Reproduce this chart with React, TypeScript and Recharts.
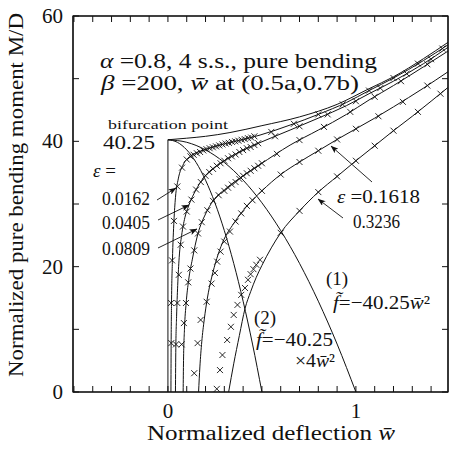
import React from 'react';
import { ComposedChart, Line, Scatter, XAxis, YAxis } from 'recharts';

// ---------- axis ticks ----------
const xTicks = [-0.5, -0.4, -0.3, -0.2, -0.1, 0, 0.1, 0.2, 0.3, 0.4, 0.5, 0.6, 0.7, 0.8, 0.9, 1, 1.1, 1.2, 1.3, 1.4];
const xTickLabels = [0, 1];
const yTicks = [0, 10, 20, 30, 40, 50, 60];
const yTickLabels = [0, 20, 40, 60];

// ---------- perfect plate: vertical branch + post-buckling path ----------
const verticalW = [0, 0];
const verticalM = [0, 40.25];
const perfectW = [0, 0.1, 0.2, 0.33, 0.5, 0.7, 0.9, 1.07, 1.2, 1.36, 1.49];
const perfectM = [40.25, 40.5, 40.8, 41.4, 42.5, 43.9, 45.9, 48.4, 50.3, 53.2, 55.8];

// ---------- imperfect plates (lines) ----------
const e1W = [0.016, 0.017, 0.019, 0.024, 0.032, 0.04, 0.055, 0.08, 0.12, 0.2, 0.3, 0.4, 0.49, 0.65, 0.8, 0.95, 1.07, 1.2, 1.36, 1.49];
const e1M = [0, 7, 14, 21, 27.3, 31, 34, 36.2, 37.6, 38.7, 39.6, 40.3, 41, 42.6, 44.3, 46.2, 48.1, 50.1, 52.9, 55.4];
const e2W = [0.04, 0.042, 0.046, 0.052, 0.06, 0.073, 0.09, 0.11, 0.15, 0.19, 0.25, 0.31, 0.4, 0.49, 0.65, 0.8, 0.95, 1.07, 1.2, 1.36, 1.49];
const e2M = [0, 7, 12, 17, 21.5, 25, 27.8, 29.7, 32.3, 34.2, 35.9, 37.1, 38.6, 39.8, 41.8, 43.7, 45.7, 47.6, 49.6, 52.4, 55];
const e3W = [0.081, 0.083, 0.088, 0.097, 0.11, 0.13, 0.16, 0.2, 0.24, 0.31, 0.4, 0.49, 0.65, 0.8, 0.95, 1.07, 1.2, 1.36, 1.49];
const e3M = [0, 5, 10, 14.2, 17.8, 21.2, 25.3, 28.4, 30.5, 32.5, 34.5, 36.3, 39.4, 41.8, 44.3, 46.6, 48.9, 51.9, 54.4];
const e4W = [0.163, 0.17, 0.18, 0.193, 0.21, 0.232, 0.26, 0.29, 0.35, 0.436, 0.5, 0.6, 0.7, 0.8, 0.9, 1.0, 1.1, 1.2, 1.36, 1.49];
const e4M = [0, 4, 8, 11.5, 15, 18.2, 21.3, 23.8, 26.9, 30.2, 32.1, 34.7, 36.7, 38.5, 40.3, 42, 43.7, 45.5, 48.5, 51.1];
const e5W = [0.323, 0.35, 0.38, 0.41, 0.44, 0.47, 0.5, 0.55, 0.6, 0.7, 0.8, 0.9, 1.0, 1.1, 1.2, 1.3, 1.4, 1.49];
const e5M = [0, 4.5, 9, 13.3, 16, 18.3, 20.2, 23, 25.4, 28.9, 31.9, 34.4, 36.9, 39.3, 41.7, 44, 46.4, 48.6];

// ---------- parabolas (1) and (2) ----------
const para1W = [0, 0.1, 0.2, 0.3, 0.4, 0.5, 0.6, 0.7, 0.8, 0.9, 1.0];
const para1M = [40.25, 39.85, 38.64, 36.63, 33.81, 30.19, 25.76, 20.53, 14.49, 7.65, 0];
const para2W = [0, 0.05, 0.1, 0.15, 0.2, 0.25, 0.3, 0.35, 0.4, 0.45, 0.5];
const para2M = [40.25, 39.85, 38.64, 36.63, 33.81, 30.19, 25.76, 20.53, 14.49, 7.65, 0];

// ---------- cross markers ----------
const x1W = [0.018, 0.017, 0.022, 0.032, 0.05, 0.075, 0.1, 0.12, 0.137, 0.154, 0.171, 0.188, 0.205, 0.222, 0.239, 0.256, 0.273, 0.29, 0.307, 0.324, 0.341, 0.358, 0.375, 0.392, 0.409, 0.426, 0.443, 0.46, 0.55, 0.67, 0.8, 0.93, 1.07, 1.2, 1.33, 1.46];
const x1M = [7.8, 14.2, 21, 27.3, 32.8, 35.8, 37.1, 37.6, 37.85, 38.1, 38.3, 38.55, 38.75, 38.9, 39.05, 39.2, 39.35, 39.5, 39.65, 39.75, 39.9, 40.0, 40.1, 40.25, 40.35, 40.5, 40.6, 40.8, 41.5, 42.8, 44.3, 45.9, 48.1, 50.1, 52.4, 54.8];
const x2W = [0.043, 0.05, 0.058, 0.068, 0.08, 0.1, 0.125, 0.15, 0.175, 0.2, 0.22, 0.24, 0.26, 0.28, 0.3, 0.32, 0.34, 0.36, 0.38, 0.4, 0.42, 0.44, 0.46, 0.48, 0.57, 0.7, 0.85, 1.0, 1.13, 1.27, 1.4];
const x2M = [7.6, 14.2, 18.7, 23.5, 26.4, 28.8, 30.7, 32.3, 33.5, 34.5, 35.1, 35.6, 36.1, 36.5, 36.9, 37.3, 37.6, 37.9, 38.3, 38.6, 38.9, 39.1, 39.4, 39.7, 40.8, 42.4, 44.3, 46.4, 48.5, 50.8, 53.1];
const x3W = [0.073, 0.085, 0.096, 0.108, 0.12, 0.14, 0.16, 0.18, 0.21, 0.24, 0.27, 0.3, 0.32, 0.34, 0.36, 0.38, 0.4, 0.42, 0.44, 0.46, 0.48, 0.5, 0.58, 0.7, 0.83, 0.97, 1.1, 1.24, 1.38];
const x3M = [7.6, 11, 14.2, 17.5, 19.7, 22.6, 25.3, 27.1, 29, 30.5, 31.4, 32.1, 32.6, 33.1, 33.5, 34, 34.5, 34.9, 35.3, 35.7, 36.1, 36.5, 38, 40.2, 42.3, 44.7, 47.1, 49.6, 52.3];
const x4W = [0.14, 0.158, 0.174, 0.206, 0.232, 0.25, 0.262, 0.28, 0.3, 0.33, 0.36, 0.39, 0.42, 0.45, 0.5, 0.6, 0.7, 0.8, 0.9, 1.0, 1.12, 1.25, 1.38];
const x4M = [3, 7.8, 11.5, 14.4, 17.3, 19, 20.8, 22.4, 24, 25.6, 27.2, 28.5, 29.7, 30.6, 32.1, 34.7, 36.7, 38.5, 40.3, 42, 44, 46.3, 48.9];
const x5W = [0.26, 0.277, 0.29, 0.315, 0.335, 0.35, 0.37, 0.39, 0.41, 0.426, 0.44, 0.455, 0.47, 0.49, 0.6, 0.7, 0.8, 0.9, 1.0, 1.1, 1.2, 1.33, 1.45];
const x5M = [0.5, 3.5, 5.9, 8.3, 10.4, 12.3, 13.9, 15.5, 16.6, 17.9, 18.8, 19.6, 20.3, 21.1, 25.4, 28.9, 31.9, 34.4, 36.9, 39.3, 41.7, 44.7, 47.6];

const pts = (w: number[], m: number[]) => w.map((x, i) => ({ x, y: m[i] }));

// ---------- layout ----------
const W = 449;
const H = 450;
const PL = 73;
const PR = 448;
const PT = 16;
const PB = 392;
const X_DOMAIN: [number, number] = [-0.505, 1.49];
const INK = '#111';
const FONT = '"Liberation Serif", "Times New Roman", serif';

const near = (a: number, list: number[]) => list.some((v) => Math.abs(v - a) < 1e-9);

const BottomTick = (props: any) => {
  const { x, payload } = props;
  const v = payload.value;
  return (
    <g>
      <line x1={x} y1={PB} x2={x} y2={PB - 6} stroke={INK} strokeWidth={1} />
      {near(v, xTickLabels) && (
        <text x={x} y={418} textAnchor="middle" fontSize={21} fontFamily={FONT} fill={INK}>
          {String(v)}
        </text>
      )}
    </g>
  );
};
const TopTick = (props: any) => {
  const { x } = props;
  return <line x1={x} y1={PT} x2={x} y2={PT + 6} stroke={INK} strokeWidth={1} />;
};
const LeftTick = (props: any) => {
  const { y, payload } = props;
  const v = payload.value;
  return (
    <g>
      <line x1={PL} y1={y} x2={PL + 6} y2={y} stroke={INK} strokeWidth={1} />
      {near(v, yTickLabels) && (
        <text x={63} y={y + 7} textAnchor="end" fontSize={21} fontFamily={FONT} fill={INK}>
          {String(v)}
        </text>
      )}
    </g>
  );
};
const RightTick = (props: any) => {
  const { y } = props;
  return <line x1={PR} y1={y} x2={PR - 6} y2={y} stroke={INK} strokeWidth={1} />;
};

const CrossMark = (props: any) => {
  const { cx, cy } = props;
  if (cx == null || cy == null) return null;
  const r = 3;
  return (
    <g>
      <line x1={cx - r} y1={cy - r} x2={cx + r} y2={cy + r} stroke={INK} strokeWidth={0.9} />
      <line x1={cx - r} y1={cy + r} x2={cx + r} y2={cy - r} stroke={INK} strokeWidth={0.9} />
    </g>
  );
};

const lineSeries = [
  { key: 'vert', w: verticalW, m: verticalM, type: 'linear' },
  { key: 'perf', w: perfectW, m: perfectM, type: 'monotone' },
  { key: 'e1', w: e1W, m: e1M, type: 'monotone' },
  { key: 'e2', w: e2W, m: e2M, type: 'monotone' },
  { key: 'e3', w: e3W, m: e3M, type: 'monotone' },
  { key: 'e4', w: e4W, m: e4M, type: 'monotone' },
  { key: 'e5', w: e5W, m: e5M, type: 'monotone' },
  { key: 'p1', w: para1W, m: para1M, type: 'monotone' },
  { key: 'p2', w: para2W, m: para2M, type: 'monotone' },
];
const crossSeries = [
  { key: 'c1', w: x1W, m: x1M },
  { key: 'c2', w: x2W, m: x2M },
  { key: 'c3', w: x3W, m: x3M },
  { key: 'c4', w: x4W, m: x4M },
  { key: 'c5', w: x5W, m: x5M },
];

const Arrow = ({ x1, y1, x2, y2 }: { x1: number; y1: number; x2: number; y2: number }) => (
  <line x1={x1} y1={y1} x2={x2} y2={y2} stroke={INK} strokeWidth={0.9} markerEnd="url(#ah)" />
);

const Overlay = () => (
  <svg width={W} height={H} style={{ position: 'absolute', left: 0, top: 0, pointerEvents: 'none' }}>
    <defs>
      <marker id="ah" markerUnits="userSpaceOnUse" markerWidth={8} markerHeight={6} refX={7.5} refY={3} orient="auto">
        <path d="M0,0 L8,3 L0,6 L2,3 z" fill={INK} />
      </marker>
    </defs>
    {/* plot frame */}
    <rect x={PL} y={PT} width={PR - PL} height={PB - PT} fill="none" stroke={INK} strokeWidth={1.2} />
    <g fontFamily={FONT} fill={INK}>
      <text x={100} y={68} fontSize={20} textLength={277} lengthAdjust="spacingAndGlyphs">
        <tspan fontStyle="italic">α</tspan> =0.8, 4 s.s., pure bending
      </text>
      <text x={101} y={90} fontSize={20} textLength={258} lengthAdjust="spacingAndGlyphs">
        <tspan fontStyle="italic">β</tspan> =200, <tspan fontStyle="italic">w̄</tspan> at (0.5a,0.7b)
      </text>
      <text x={108} y={129} fontSize={13} textLength={120} lengthAdjust="spacingAndGlyphs">bifurcation point</text>
      <text x={103} y={149} fontSize={19} textLength={52} lengthAdjust="spacingAndGlyphs">40.25</text>
      <text x={93} y={177} fontSize={19}>
        <tspan fontStyle="italic">ε</tspan> =
      </text>
      <text x={102} y={205} fontSize={19} textLength={48} lengthAdjust="spacingAndGlyphs">0.0162</text>
      <text x={102} y={229} fontSize={19} textLength={48} lengthAdjust="spacingAndGlyphs">0.0405</text>
      <text x={102} y={255} fontSize={19} textLength={48} lengthAdjust="spacingAndGlyphs">0.0809</text>
      <text x={337} y={203} fontSize={19} textLength={83} lengthAdjust="spacingAndGlyphs">
        <tspan fontStyle="italic">ε</tspan> =0.1618
      </text>
      <text x={353} y={228} fontSize={19} textLength={47} lengthAdjust="spacingAndGlyphs">0.3236</text>
      <text x={326} y={285} fontSize={19}>(1)</text>
      <text x={333} y={309} fontSize={19} textLength={97} lengthAdjust="spacingAndGlyphs">
        <tspan fontStyle="italic">f̃</tspan>=−40.25<tspan fontStyle="italic">w̄</tspan>²
      </text>
      <text x={254} y={324} fontSize={19}>(2)</text>
      <text x={256} y={346} fontSize={19} textLength={77} lengthAdjust="spacingAndGlyphs">
        <tspan fontStyle="italic">f̃</tspan>=−40.25
      </text>
      <text x={295} y={367} fontSize={19} textLength={40} lengthAdjust="spacingAndGlyphs">
        ×4<tspan fontStyle="italic">w̄</tspan>²
      </text>
      <text x={271} y={440} fontSize={20} textAnchor="middle" textLength={248} lengthAdjust="spacingAndGlyphs">
        Normalized deflection <tspan fontStyle="italic">w̄</tspan>
      </text>
      <text
        x={23}
        y={195}
        fontSize={20}
        textAnchor="middle"
        transform="rotate(-90 23 195)"
        textLength={364}
        lengthAdjust="spacingAndGlyphs"
      >
        Normalized pure bending moment M/D
      </text>
    </g>
    <Arrow x1={157} y1={200} x2={176} y2={188} />
    <Arrow x1={158} y1={220} x2={189} y2={205} />
    <Arrow x1={158} y1={248} x2={197} y2={229} />
    <Arrow x1={372} y1={182} x2={331} y2={146} />
    <Arrow x1={343} y1={218} x2={318} y2={199} />
  </svg>
);

export default function App() {
  return (
    <div style={{ position: 'absolute', left: 0, top: 0, width: W, height: H, background: '#fff' }}>
      <ComposedChart width={W} height={H} margin={{ top: 0, right: 0, bottom: 0, left: 0 }}>
        <XAxis
          xAxisId="b"
          type="number"
          dataKey="x"
          domain={X_DOMAIN}
          ticks={xTicks}
          interval={0}
          allowDataOverflow
          height={H - PB}
          tickLine={false}
          tick={<BottomTick />}
          axisLine={{ stroke: INK, strokeWidth: 1.2 }}
        />
        <XAxis
          xAxisId="t"
          orientation="top"
          type="number"
          dataKey="x"
          domain={X_DOMAIN}
          ticks={xTicks}
          interval={0}
          allowDataOverflow
          height={PT}
          tickLine={false}
          tick={<TopTick />}
          axisLine={{ stroke: INK, strokeWidth: 1.2 }}
        />
        <YAxis
          yAxisId="l"
          type="number"
          dataKey="y"
          domain={[0, 60]}
          ticks={yTicks}
          interval={0}
          allowDataOverflow
          width={PL}
          tickLine={false}
          tick={<LeftTick />}
          axisLine={{ stroke: INK, strokeWidth: 1.2 }}
        />
        <YAxis
          yAxisId="r"
          orientation="right"
          type="number"
          dataKey="y"
          domain={[0, 60]}
          ticks={yTicks}
          interval={0}
          allowDataOverflow
          width={W - PR}
          tickLine={false}
          tick={<RightTick />}
          axisLine={{ stroke: INK, strokeWidth: 1.2 }}
        />
        {lineSeries.map((s) => (
          <Line
            key={s.key}
            xAxisId="b"
            yAxisId="l"
            data={pts(s.w, s.m)}
            dataKey="y"
            type={s.type as any}
            dot={false}
            activeDot={false}
            stroke={INK}
            strokeWidth={1}
            isAnimationActive={false}
          />
        ))}
        {crossSeries.map((s) => (
          <Scatter
            key={s.key}
            xAxisId="b"
            yAxisId="l"
            data={pts(s.w, s.m)}
            dataKey="y"
            shape={<CrossMark />}
            isAnimationActive={false}
          />
        ))}
      </ComposedChart>
      <Overlay />
    </div>
  );
}
